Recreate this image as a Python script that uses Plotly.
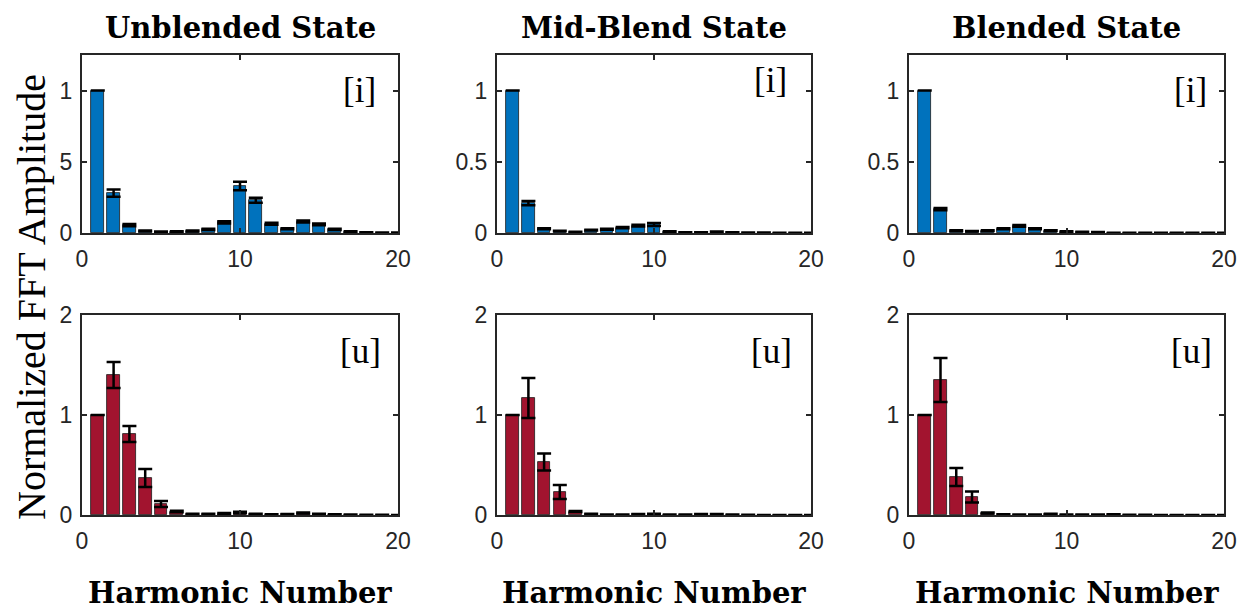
import plotly.graph_objects as go
from plotly.subplots import make_subplots

harmonics = list(range(1, 21))
state_titles = ["Unblended State", "Mid-Blend State", "Blended State"]
x_title = "Harmonic Number"
y_title = "Normalized FFT Amplitude"
row_tags = ["[i]", "[u]"]

# current [i]
unb_i = [1.00, 0.28, 0.055, 0.015, 0.008, 0.010, 0.014, 0.025, 0.075, 0.33, 0.23, 0.065, 0.030, 0.080, 0.060, 0.025, 0.010, 0.005, 0.003, 0.002]
unb_i_err = [0.0, 0.025, 0.008, 0.003, 0.002, 0.002, 0.003, 0.004, 0.008, 0.030, 0.018, 0.007, 0.004, 0.007, 0.006, 0.004, 0.002, 0.001, 0.001, 0.001]
mid_i = [1.00, 0.21, 0.030, 0.014, 0.007, 0.020, 0.026, 0.038, 0.052, 0.060, 0.010, 0.005, 0.005, 0.008, 0.004, 0.002, 0.002, 0.001, 0.001, 0.001]
mid_i_err = [0.0, 0.015, 0.004, 0.002, 0.001, 0.003, 0.004, 0.005, 0.006, 0.010, 0.002, 0.001, 0.001, 0.002, 0.001, 0.001, 0.001, 0.0, 0.0, 0.0]
ble_i = [1.00, 0.168, 0.017, 0.012, 0.017, 0.030, 0.050, 0.030, 0.017, 0.010, 0.007, 0.006, 0.002, 0.002, 0.002, 0.001, 0.001, 0.001, 0.001, 0.001]
ble_i_err = [0.0, 0.008, 0.003, 0.002, 0.003, 0.004, 0.006, 0.004, 0.003, 0.002, 0.001, 0.001, 0.0, 0.0, 0.0, 0.0, 0.0, 0.0, 0.0, 0.0]

# voltage [u]
unb_u = [1.00, 1.40, 0.81, 0.37, 0.11, 0.035, 0.010, 0.010, 0.015, 0.025, 0.010, 0.005, 0.008, 0.020, 0.010, 0.005, 0.004, 0.002, 0.002, 0.001]
unb_u_err = [0.0, 0.13, 0.08, 0.09, 0.03, 0.008, 0.003, 0.003, 0.004, 0.008, 0.003, 0.002, 0.002, 0.006, 0.003, 0.002, 0.001, 0.001, 0.001, 0.0]
mid_u = [1.00, 1.17, 0.53, 0.23, 0.035, 0.010, 0.005, 0.004, 0.008, 0.010, 0.004, 0.003, 0.008, 0.008, 0.003, 0.002, 0.001, 0.001, 0.001, 0.001]
mid_u_err = [0.0, 0.20, 0.085, 0.07, 0.006, 0.002, 0.001, 0.001, 0.002, 0.003, 0.001, 0.001, 0.002, 0.002, 0.001, 0.0, 0.0, 0.0, 0.0, 0.0]
ble_u = [1.00, 1.35, 0.38, 0.18, 0.020, 0.006, 0.004, 0.003, 0.010, 0.005, 0.003, 0.003, 0.006, 0.002, 0.002, 0.001, 0.001, 0.001, 0.001, 0.001]
ble_u_err = [0.0, 0.22, 0.09, 0.055, 0.005, 0.002, 0.001, 0.001, 0.002, 0.001, 0.001, 0.001, 0.002, 0.0, 0.0, 0.0, 0.0, 0.0, 0.0, 0.0]

top_vals = [unb_i, mid_i, ble_i]
top_errs = [unb_i_err, mid_i_err, ble_i_err]
bot_vals = [unb_u, mid_u, ble_u]
bot_errs = [unb_u_err, mid_u_err, ble_u_err]

blue = "#0072BD"
red = "#A2142F"
axis_col = "#262626"

W, H = 1242, 609
x_dom_px = [(82, 398), (497, 811), (909, 1224)]
y_dom_px = [(55, 233), (315, 515)]
# tag positions inside each axes (domain fractions)
tag_pos = [[(0.877, 0.80), (0.872, 0.855), (0.894, 0.80)],
           [(0.882, 0.82), (0.875, 0.82), (0.897, 0.82)]]

fig = make_subplots(rows=2, cols=3)

for r, (vals_set, errs_set, col) in enumerate([(top_vals, top_errs, blue), (bot_vals, bot_errs, red)]):
    for c in range(3):
        fig.add_trace(go.Bar(
            x=harmonics, y=vals_set[c], width=0.8,
            marker=dict(color=col, line=dict(color="#1a1a1a", width=0.8)),
            error_y=dict(type="data", array=errs_set[c], color="black", thickness=2.5, width=7),
            showlegend=False,
        ), row=r + 1, col=c + 1)

tick_font = dict(family="Liberation Sans, Arial", size=23, color=axis_col)
for r in range(2):
    for c in range(3):
        idx = r * 3 + c + 1
        xs = "xaxis" if idx == 1 else f"xaxis{idx}"
        ys = "yaxis" if idx == 1 else f"yaxis{idx}"
        x0, x1 = x_dom_px[c]
        yt, yb = y_dom_px[r]
        fig.layout[xs].update(
            domain=[x0 / W, x1 / W], range=[0, 20], tickvals=[0, 10, 20],
            showline=True, mirror="allticks", linecolor=axis_col, linewidth=2,
            ticks="inside", ticklen=5, tickwidth=1.5, tickcolor=axis_col,
            showgrid=False, zeroline=False, tickfont=tick_font, ticklabelstandoff=4,
            automargin=False,
        )
        if r == 0:
            fig.layout[ys].update(range=[0, 1.25], tickvals=[0, 0.5, 1], ticktext=["0", "0.5", "1"])
        else:
            fig.layout[ys].update(range=[0, 2], tickvals=[0, 1, 2], ticktext=["0", "1", "2"])
        fig.layout[ys].update(
            domain=[1 - yb / H, 1 - yt / H],
            showline=True, mirror="allticks", linecolor=axis_col, linewidth=2,
            ticks="inside", ticklen=5, tickwidth=1.5, tickcolor=axis_col,
            showgrid=False, zeroline=False, tickfont=tick_font, ticklabelstandoff=3,
            automargin=False,
        )
        xref = "x domain" if idx == 1 else f"x{idx} domain"
        yref = "y domain" if idx == 1 else f"y{idx} domain"
        tx, ty = tag_pos[r][c]
        fig.add_annotation(
            text=row_tags[r], xref=xref, yref=yref, x=tx, y=ty,
            xanchor="center", yanchor="middle", showarrow=False,
            font=dict(family="Liberation Serif", size=35, color="black"),
        )

serif_bold = dict(family="DejaVu Serif", size=29, color="black", weight="bold")
for c in range(3):
    xc = (x_dom_px[c][0] + x_dom_px[c][1]) / 2 / W
    fig.add_annotation(text=f"<b>{state_titles[c]}</b>", xref="paper", yref="paper",
                       x=xc, y=1 - 28 / H, xanchor="center", yanchor="middle",
                       showarrow=False, font=serif_bold)
    fig.add_annotation(text=f"<b>{x_title}</b>", xref="paper", yref="paper",
                       x=xc, y=1 - 593 / H, xanchor="center", yanchor="middle",
                       showarrow=False, font=serif_bold)

fig.add_annotation(text=y_title, xref="paper", yref="paper", x=31 / W, y=1 - 297 / H,
                   xanchor="center", yanchor="middle", textangle=-90, showarrow=False,
                   bgcolor="white", borderpad=4,
                   font=dict(family="Liberation Serif", size=40, color="black"))

fig.update_layout(
    width=W, height=H, margin=dict(l=0, r=0, t=0, b=0, pad=0, autoexpand=False),
    autosize=False,
    plot_bgcolor="white", paper_bgcolor="white", bargap=0,
)

fig.write_html("out.html")
